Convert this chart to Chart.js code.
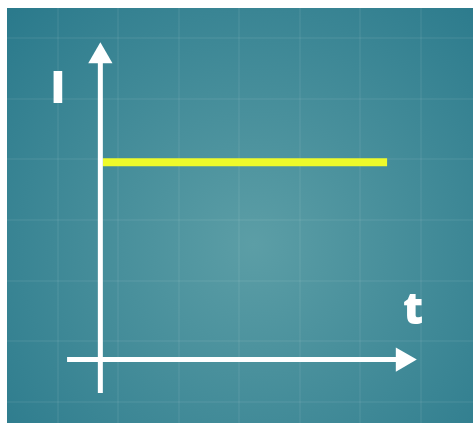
<!DOCTYPE html>
<html>
<head>
<meta charset="utf-8">
<script src="https://cdn.jsdelivr.net/npm/chart.js@4"></script>
<style>
  html, body { margin: 0; padding: 0; background: #ffffff; }
  #wrap { position: absolute; left: 7px; top: 8px; width: 466px; height: 415px; }
</style>
</head>
<body>
<div id="wrap"><canvas id="chartCanvas"></canvas></div>
<script>
// ------------------------------------------------------------
// Data: I-t graph for a constant current (values in grid units)
// ------------------------------------------------------------
var axisOrigin = 0.7          // where the two axes cross
var axisStart = 0.15          // axes start slightly before the origin
var axisEnd = 5.70            // arrow heads sit here
var currentTime = [0.74, 5.44]   // t from .. to
var currentLevel = [3.95, 3.95]  // I stays constant
var labelTexts = ['I', 't']
var labelXs = [0, 5.87]
var labelYs = [5.14, 1.49]

// visible window of the grid
var xMin = -0.843, xMax = 6.86
var yMin = -0.346, yMax = 6.494

// background + grid panel
var bgPlugin = {
    id: 'bg',
    beforeDraw(chart) {
        var ctx = chart.ctx
        var w = chart.width, h = chart.height
        var g = ctx.createRadialGradient(w * 0.53, h * 0.57, 0, w * 0.53, h * 0.57, w * 0.72)
        g.addColorStop(0, '#5c9ea6')
        g.addColorStop(1, '#2b7a8c')
        ctx.save()
        ctx.fillStyle = g
        ctx.fillRect(0, 0, w, h)
        ctx.restore()
    }
}

// axis letters
var labelPlugin = {
    id: 'letters',
    afterDatasetsDraw(chart) {
        var ctx = chart.ctx
        var xs = chart.scales.x, ys = chart.scales.y
        ctx.save()
        ctx.fillStyle = '#ffffff'
        ctx.font = '800 44px "Open Sans"'
        ctx.textAlign = 'center'
        ctx.textBaseline = 'middle'
        labelTexts.map((txt, i) => {
            ctx.fillText(txt, xs.getPixelForValue(labelXs[i]), ys.getPixelForValue(labelYs[i]))
        })
        ctx.restore()
    }
}

var datasets = [
    {   // time axis
        data: [{ x: axisStart, y: axisOrigin }, { x: axisEnd, y: axisOrigin }],
        borderColor: '#ffffff',
        borderWidth: 5,
        borderCapStyle: 'butt',
        pointRadius: [0, 14],
        pointStyle: 'triangle',
        pointRotation: 90,
        pointBackgroundColor: '#ffffff',
        pointBorderWidth: 0
    },
    {   // current axis
        data: [{ x: axisOrigin, y: axisStart }, { x: axisOrigin, y: axisEnd }],
        borderColor: '#ffffff',
        borderWidth: 5,
        borderCapStyle: 'butt',
        pointRadius: [0, 14],
        pointStyle: 'triangle',
        pointRotation: 0,
        pointBackgroundColor: '#ffffff',
        pointBorderWidth: 0
    },
    {   // constant current
        data: currentTime.map((t, i) => ({ x: t, y: currentLevel[i] })),
        borderColor: '#eefa2a',
        borderWidth: 8,
        borderCapStyle: 'butt',
        pointRadius: 0
    }
]

var ctx = document.getElementById('chartCanvas')
new Chart(ctx, {
    type: 'line',
    data: { datasets: datasets },
    options: {
        responsive: true,
        maintainAspectRatio: false,
        animation: false,
        layout: { padding: 0, autoPadding: false },
        plugins: { legend: { display: false }, tooltip: { enabled: false } },
        scales: {
            x: {
                type: 'linear', min: xMin, max: xMax,
                ticks: { display: false, stepSize: 1, includeBounds: false },
                grid: { color: 'rgba(255,255,255,0.05)', lineWidth: 2, drawTicks: false },
                border: { display: false }
            },
            y: {
                type: 'linear', min: yMin, max: yMax,
                ticks: { display: false, stepSize: 1, includeBounds: false },
                grid: { color: 'rgba(255,255,255,0.05)', lineWidth: 2, drawTicks: false },
                border: { display: false }
            }
        }
    },
    plugins: [bgPlugin, labelPlugin]
})
</script>
</body>
</html>
